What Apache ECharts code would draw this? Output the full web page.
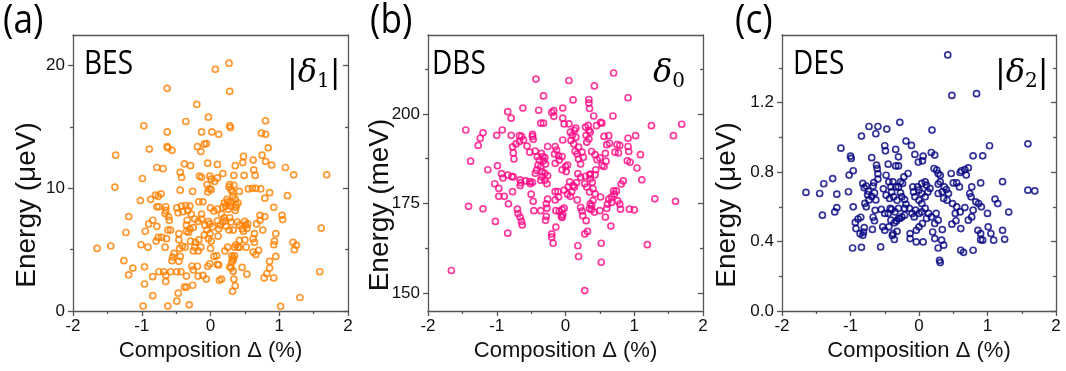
<!DOCTYPE html>
<html>
<head>
<meta charset="utf-8">
<script src="https://cdn.jsdelivr.net/npm/echarts@6/dist/echarts.min.js"></script>
<style>
  html, body { margin: 0; padding: 0; background: #fff; }
  #chart { width: 1066px; height: 371px; }
</style>
</head>
<body>
<div id="chart"></div>
<script>
// 数据：成分偏差 Δ (%) 与能量，读自原图
const besPoints = [
  [0.27,20.2],[0.07,19.7],[-0.63,18.15],[0.28,17.9],[-0.2,16.85],[-0.03,15.8],[0.8,15.5],[-0.97,15.1],[-0.36,15.45],[0.28,15.1],[0.29,14.95],[-0.63,14.6],[-0.13,14.6],[0.02,14.6],[0.12,14.4],[0.74,14.5],[0.8,14.4],
  [-1.38,12.7],[-0.89,13.2],[-0.63,13.4],[-0.62,13.3],[-0.56,13.1],[-0.19,13.4],[-0.09,13.6],[-0.06,13.65],[-0.14,13.0],[0.84,13.3],[0.75,12.7],[0.48,12.6],[0.47,12.1],[0.62,12.3],[0.8,12.2],
  [-0.78,11.7],[-0.69,11.6],[-0.38,12.0],[-0.29,11.85],[-0.04,12.05],[0.1,11.95],[0.18,11.2],[0.36,11.85],[0.63,11.5],[0.65,11.05],[0.89,11.9],[1.09,11.7],[1.21,11.1],[1.69,11.1],
  [-0.44,11.3],[-0.42,10.9],[-0.16,11.0],[-0.13,10.9],[-0.01,11.0],[0.01,10.75],[0.1,10.85],[0.06,10.55],[0.34,11.05],[0.49,11.05],[-0.99,10.8],[-1.39,10.1],[-0.44,9.85],[-0.26,9.75],
  [-0.05,10.3],[-0.02,9.95],[-0.04,9.7],[0.01,9.9],[0.28,10.3],[0.27,10.1],[0.3,9.9],[0.32,9.7],[0.34,10.25],[0.42,9.75],[0.55,9.95],[0.61,10.0],[0.66,10.0],[0.73,9.95],[0.86,9.65],[1.12,9.4],[0.79,9.2],
  [-1.02,9.0],[-0.87,9.1],[-0.8,9.45],[-0.76,9.35],[-0.72,9.55],[-0.78,8.5],[-0.75,8.5],[-0.65,8.5],[-0.65,8.2],[-0.66,7.95],
  [-0.49,8.4],[-0.47,8.0],[-0.42,8.55],[-0.36,8.6],[-0.33,8.2],[-0.3,8.55],[-0.4,8.1],
  [-0.61,7.7],[-0.6,7.4],[-1.19,7.7],[-0.84,7.4],[-0.9,7.1],[-0.78,6.9],[-1.23,6.4],
  [-0.28,7.9],[-0.34,7.4],[-0.35,7.0],[-0.3,6.7],[-0.25,6.8],[-0.32,6.4],[-0.13,7.9],[-0.11,8.9],[-0.17,8.9],[0.0,8.4],[0.05,8.15],[0.1,8.3],
  [-0.23,7.5],[-0.18,7.3],[-0.13,7.5],[-0.08,7.0],[-0.03,7.3],[-0.01,7.1],[0.03,6.85],[-0.05,6.6],[-0.09,6.2],[-0.01,6.3],[-0.03,5.9],
  [0.1,7.35],[0.14,7.0],[0.12,6.7],[0.11,6.1],
  [0.2,8.8],[0.24,9.1],[0.26,8.9],[0.3,8.85],[0.33,9.35],[0.36,9.1],[0.37,8.65],[0.4,8.8],
  [0.18,8.45],[0.22,8.55],[0.26,8.3],[0.29,8.55],[0.36,8.2],[0.37,8.45],
  [0.16,7.9],[0.2,7.6],[0.18,7.25],[0.22,7.35],[0.23,6.9],[0.28,7.6],[0.3,7.25],[0.33,6.6],[0.27,6.6],
  [0.39,7.25],[0.42,7.0],[0.46,6.7],[0.48,6.5],[0.53,6.75],[0.5,7.3],[0.51,7.0],[0.54,7.1],
  [0.42,5.75],[0.37,5.4],[0.4,5.2],[0.35,5.2],[0.42,5.2],
  [0.33,4.3],[0.31,4.0],[0.35,4.5],[0.5,5.8],[0.52,5.2],[0.62,5.9],[0.64,5.6],[0.66,4.6],[0.62,4.8],[0.7,4.95],[0.64,6.3],[0.67,7.1],[0.76,6.6],[0.72,7.8],[0.79,7.7],[0.72,7.4],[0.92,8.45],
  [0.93,5.7],[0.92,5.4],[0.95,6.3],[0.95,4.45],[0.86,4.05],[0.86,3.5],[0.82,3.05],[0.78,2.7],[0.92,2.7],[1.04,7.8],[1.05,7.45],[1.2,5.6],[1.22,5.0],[1.25,5.35],[1.61,6.75],[1.59,3.2],[1.3,1.1],[1.02,0.38],
  [-1.65,5.1],[-1.45,5.3],[-1.26,4.1],[-1.13,3.5],[-1.19,2.95],[-1.01,5.4],[-0.91,5.2],[-0.96,3.6],[-0.96,2.2],[-0.84,2.8],[-0.84,1.25],[-0.98,0.4],[-0.62,0.4],[-0.31,0.5],[-0.49,0.8],[-0.47,1.45],[-0.38,1.95],[-0.35,1.95],[-0.26,2.1],
  [-0.35,2.85],[-0.27,3.65],[-0.25,3.35],[-0.19,3.65],[-0.18,2.85],[-0.11,2.9],[-0.06,2.6],[-0.01,3.85],[-0.04,3.65],[0.1,3.8],[0.13,2.5],[0.16,2.6],[0.28,3.6],[0.3,3.5],[0.34,2.6],[0.36,2.05],[0.32,1.6],[0.33,3.25],[0.46,3.55],[0.53,3.0],
  [-0.75,3.2],[-0.68,3.2],[-0.65,2.9],[-0.58,3.2],[-0.49,3.2],[-0.43,3.2],[-0.65,2.4],
  [-0.56,4.1],[-0.55,4.4],[-0.53,4.7],[-0.46,4.05],[-0.44,4.45],[-0.45,5.1],[-0.41,5.3],[-0.37,5.2],
  [-0.29,5.7],[-0.22,5.6],[-0.25,4.9],[-0.23,5.2],[-0.18,4.9],[-0.14,5.2],[-0.17,5.8],[0.0,5.1],[0.01,5.7],[0.05,4.45],[0.09,4.5],[0.12,3.75],[0.21,4.9],[0.25,5.2],[0.33,4.15],[0.31,4.5],
  [-0.64,5.9],[-0.71,6.0],[-0.79,5.7],[-0.76,6.0],[-0.58,6.6],[-0.62,6.6],[-0.46,5.8],[-0.46,6.3],[-0.35,6.5],[-0.66,5.2],[-0.95,6.5]
]

const dbsPoints = [
  [-1.66,156.3],[-1.45,195.5],[-1.38,186.8],[-1.41,174.2],[-1.2,194.7],[-1.24,193.2],[-1.27,191.2],[-1.13,184.4],[-1.2,173.5],[-1.02,170.0],[-0.99,185.5],[-1.0,194.0],[-1.03,180.5],[-0.97,179.2],[-0.97,177],[-0.89,177],[-0.84,200.6],[-0.79,198.8],[-0.92,195.5],[-0.79,194.0],
  [-0.93,183.3],[-0.91,182.1],[-0.84,182.9],[-0.78,182.5],[-0.76,182.4],[-0.77,178.3],[-0.83,174.9],[-0.84,166.7],
  [-0.77,190.8],[-0.76,189.1],[-0.75,187.4],[-0.72,191.6],[-0.67,193.9],[-0.64,193.7],[-0.61,192.7],[-0.67,192.3],
  [-0.7,173.4],[-0.69,172.2],[-0.66,171.2],[-0.64,170.0],[-0.63,169.0],
  [-0.66,181.6],[-0.65,180.8],[-0.66,180.0],[-0.58,181.3],[-0.52,181.1],[-0.51,180.5],[-0.48,180.9],
  [-0.62,201.6],[-0.56,191.0],[-0.52,189.3],[-0.48,194.3],[-0.48,193.7],[-0.47,192.9],[-0.5,177.6],[-0.47,175.6],[-0.46,173.0],[-0.43,209.7],[-0.39,201.0],[-0.36,197.4],[-0.32,197.4],[-0.32,205.0],
  [-0.44,189.6],[-0.41,188.1],[-0.38,187.1],[-0.4,185.7],[-0.36,185.2],[-0.42,184.3],[-0.44,183.4],[-0.34,183.9],[-0.3,183.4],
  [-0.36,181.5],[-0.34,182.4],[-0.3,181.5],[-0.26,182.7],[-0.27,180.5],
  [-0.33,188.1],[-0.3,187.8],[-0.32,186.9],[-0.29,186.0],[-0.35,189.0],
  [-0.36,173.0],[-0.28,174.9],[-0.26,176.2],[-0.27,173.7],[-0.28,171.4],[-0.29,170.3],[-0.26,190.9],[-0.2,200.4],[-0.17,200.9],[-0.17,199.3],[-0.2,166.5],[-0.2,165.6],[-0.18,163.9],[-0.14,168.4],
  [-0.14,173.0],[-0.09,172.8],[-0.05,173.3],[-0.02,173.7],[-0.05,171.1],[-0.06,171.4],[-0.04,171.9],
  [-0.15,176.0],[-0.11,178.3],[-0.1,176.8],[-0.15,178.3],[-0.04,201.6],[-0.04,198.8],[-0.02,197.2],[-0.04,192.7],
  [-0.15,190.9],[-0.13,189.9],[-0.16,188.8],[-0.1,188.3],[-0.09,187.1],[-0.15,186.2],[-0.05,188.1],
  [-0.05,184.4],[0.0,185.3],[0.01,183.9],[0.03,185.7],
  [0.05,197.2],[0.15,196.0],[0.13,195.4],[0.07,194.9],[0.1,194.0],[0.08,192.6],[0.15,193.5],[0.12,191.6],[0.19,190.7],[0.14,189.6],
  [0.17,188.8],[0.19,187.4],[0.22,186.0],[0.24,189.3],[0.26,187.9],
  [0.29,196.3],[0.33,196.8],[0.34,195.4],[0.3,194.0],[0.34,193.0],[0.31,192.1],[0.36,194.9],
  [0.34,204.0],[0.34,203.0],[0.35,201.5],[0.05,209.3],[0.11,203.9],[0.42,207.8],[0.41,199.4],[0.45,196.7],[0.53,197.4],[0.51,197.6],
  [0.56,193.7],[0.63,193.9],[0.64,191.8],[0.6,191.4],[0.58,189.0],
  [0.38,189.5],[0.43,188.6],[0.46,187.2],[0.5,187.7],[0.53,185.6],[0.59,186.8],[0.56,185.3],[0.44,184.4],
  [0.72,189.3],[0.77,189.1],[0.79,191.2],[0.75,191.4],[0.7,211.4],[0.91,204.5],[0.69,199.4],
  [0.91,193.2],[0.91,190.9],[0.92,189.5],[0.9,186.9],[0.94,186.5],[1.02,193.9],[1.09,188.6],[1.04,184.9],[1.11,181.6],[1.25,196.7],[1.69,197.1],[1.57,193.9],[1.3,176.3],[1.6,175.6],[1.19,163.5],[1.0,173.2],[0.93,173.4],
  [0.79,174.8],[0.8,173.4],[0.76,175.7],[0.71,177.6],[0.74,178.5],[0.81,180.4],[0.84,181.3],
  [0.67,176.8],[0.61,174.8],[0.6,173.6],[0.58,171.2],[0.63,176.2],[0.67,175.3],[0.7,178.5],[0.66,168.7],
  [0.51,176.8],[0.4,175.8],[0.38,174.4],[0.43,177.7],[0.35,178.2],[0.4,179.1],[0.36,181.9],[0.35,183.0],[0.43,183.0],[0.39,180.9],
  [0.28,180.5],[0.31,179.6],[0.22,182.3],[0.29,182.6],[0.36,183.2],
  [0.18,183.3],[0.16,180.8],[0.13,179.6],[0.11,180.0],[0.06,181.0],[0.04,179.6],[0.09,178.3],[0.17,176.0],[0.07,177.0],[0.03,177.6],[-0.02,178.7],
  [0.22,173.9],[0.24,172.9],[0.25,171.6],[0.3,170.2],[0.28,166.5],[0.32,167.2],[0.35,173.5],[0.38,173.3],[0.36,174.9],[0.42,172.6],
  [0.18,163.2],[0.19,160.2],[0.28,150.7],[0.52,158.6],[0.52,163.9],[0.5,173.0]
]

const desPoints = [
  [0.42,1.475],[0.48,1.242],[0.84,1.252],[-0.28,1.087],[-0.73,1.063],[-0.6,1.063],[-0.63,1.021],[-0.47,1.048],[-0.84,1.008],[0.19,1.042],[-1.14,0.938],[-0.19,0.979],[-0.11,0.954],[-0.5,0.952],[-0.49,0.923],[-0.34,0.931],[-1.0,0.892],[-0.99,0.879],[-0.69,0.883],[-0.3,0.888],[-0.06,0.902],[0.06,0.892],[0.05,0.865],[-0.01,0.858],[0.18,0.913],[0.23,0.898],[1.03,0.952],[1.59,0.963],[0.93,0.894],[0.79,0.894],
  [-0.62,0.84],[-0.61,0.82],[-0.6,0.79],[-0.6,0.76],[-0.45,0.846],[-0.34,0.836],[-0.3,0.836],[-0.96,0.808],[-1.02,0.783],[-1.26,0.763],[-1.39,0.733],[-1.65,0.683],[-1.45,0.677],[-1.2,0.673],[-1.03,0.687],[-1.41,0.552],[-1.2,0.596],[-1.23,0.571],[-0.96,0.6],
  [-0.82,0.735],[-0.8,0.71],[-0.77,0.72],[-0.74,0.69],[-0.75,0.67],[-0.79,0.62],[-0.73,0.64],[-0.77,0.6],
  [-0.67,0.72],[-0.66,0.74],[-0.65,0.68],[-0.69,0.66],[-0.63,0.64],[-0.64,0.58],[-0.65,0.52],
  [-0.85,0.54],[-0.93,0.51],[-0.89,0.53],[-0.92,0.475],[-0.8,0.48],[-0.81,0.455],[-0.86,0.445],[-0.82,0.436],
  [-0.68,0.47],[-0.67,0.54],[-0.97,0.363],[-0.84,0.367],[-0.56,0.369],
  [-0.48,0.782],[-0.44,0.744],[-0.41,0.715],[-0.38,0.744],[-0.34,0.715],[-0.3,0.715],[-0.27,0.744],[-0.24,0.735],[-0.22,0.773],[-0.16,0.792],
  [-0.52,0.704],[-0.48,0.667],[-0.43,0.648],[-0.4,0.686],[-0.37,0.658],[-0.32,0.638],[-0.27,0.681],[-0.25,0.658],[-0.21,0.642],[-0.19,0.615],
  [-0.55,0.585],[-0.5,0.562],[-0.45,0.562],[-0.42,0.591],[-0.4,0.585],[-0.35,0.571],[-0.3,0.591],[-0.21,0.591],
  [-0.53,0.485],[-0.5,0.465],[-0.44,0.485],[-0.41,0.523],[-0.36,0.508],[-0.33,0.519],[-0.3,0.533],[-0.25,0.542],[-0.21,0.552],
  [-0.38,0.446],[-0.36,0.412],[-0.39,0.435],[-0.32,0.459],[-0.28,0.533],
  [-0.13,0.446],[-0.13,0.417],[-0.04,0.465],[-0.04,0.398],[0.06,0.398],[0.0,0.485],[0.05,0.504],
  [-0.09,0.715],[-0.08,0.686],[-0.06,0.658],[-0.02,0.715],[0.0,0.696],[0.04,0.735],[0.09,0.744],[0.11,0.725],[0.04,0.677],[0.09,0.658],[0.13,0.686],[0.16,0.706],[0.0,0.638],[0.04,0.619],
  [-0.14,0.591],[-0.1,0.562],[-0.05,0.581],[0.0,0.562],[-0.07,0.542],[0.04,0.571],[0.09,0.591],[0.14,0.562],[0.11,0.533],[0.18,0.542],[0.23,0.504],[0.25,0.562],[0.28,0.523],
  [0.22,0.821],[0.26,0.811],[0.28,0.792],[0.31,0.782],[0.31,0.744],[0.28,0.731],[0.37,0.715],[0.4,0.7],[0.43,0.677],[0.34,0.687],[0.28,0.677],[0.36,0.648],[0.41,0.638],
  [0.47,0.792],[0.5,0.738],[0.55,0.738],[0.59,0.715],
  [0.6,0.798],[0.62,0.808],[0.67,0.815],[0.69,0.783],[0.72,0.825],[0.76,0.658],[0.77,0.715],[0.74,0.677],
  [0.9,0.738],[0.83,0.629],[0.87,0.619],[0.91,0.6],[1.0,0.562],[1.15,0.619],[1.22,0.745],[1.11,0.645],[1.59,0.696],[1.69,0.692],[1.31,0.57],[1.22,0.465],[1.25,0.413],[1.09,0.408],[1.01,0.485],[1.05,0.446],
  [0.9,0.411],[0.93,0.408],[0.86,0.465],[0.9,0.446],[0.79,0.35],[0.61,0.35],[0.65,0.338],[0.48,0.5],[0.54,0.52],
  [0.61,0.475],[0.72,0.523],[0.77,0.542],[0.79,0.581],
  [0.33,0.408],[0.36,0.379],[0.28,0.363],[0.34,0.469],[0.3,0.292],[0.31,0.279],[0.2,0.455],[0.23,0.417],
  [0.55,0.6],[0.6,0.571],[0.67,0.596],[0.49,0.619],[0.53,0.562]
]

// 刻度
const besTicks = [0, 10, 20]
const besMinor = [5, 15]
const dbsTicks = [150, 175, 200]
const dbsMinor = [162.5, 187.5, 212.5]
const desTicks = [0, 0.4, 0.8, 1.2]
const desMinor = [0.2, 0.6, 1.0, 1.4]

const AXIS_COLOR = '#555'
const TEXT_COLOR = '#111'
const SANS = '"Liberation Sans", Arial, sans-serif'
const LABEL_FONT = '"Open Sans", sans-serif'
const MATH_FONT = '"DejaVu Serif", serif'

const panels = [
  { tag: '(a)', tagX: 3, label: 'BES', labelX: 84, data: besPoints, color: '#ff8000', left: 73, width: 275,
    yMin: 0, yMax: 22.5, ticks: besTicks, minor: besMinor, yName: 'Energy (μeV)', yNameX: 27,
    fmt: v => String(v), sym: '|{d|δ}{s|1}|', symX: 287 },
  { tag: '(b)', tagX: 370, label: 'DBS', labelX: 432, data: dbsPoints, color: '#ff0a84', left: 428, width: 275,
    yMin: 145, yMax: 222, ticks: dbsTicks, minor: dbsMinor, yName: 'Energy (meV)', yNameX: 380,
    fmt: v => String(v), sym: '{d|δ}{s|0}', symX: 653 },
  { tag: '(c)', tagX: 735, label: 'DES', labelX: 793, data: desPoints, color: '#00007f', left: 782, width: 274,
    yMin: 0, yMax: 1.59, ticks: desTicks, minor: desMinor, yName: 'Energy (μeV)', yNameX: 727,
    fmt: v => v.toFixed(1), sym: '|{d|δ}{s|2}|', symX: 995 }
]

const lineStyle = { color: AXIS_COLOR, width: 1.3 }

function yAxisSet(i, p) {
  const base = { gridIndex: i, type: 'value', min: p.yMin, max: p.yMax, splitLine: { show: false } }
  return [
    // 左轴：主刻度 + 标签
    { ...base, position: 'left',
      axisLine: { show: true, onZero: false, lineStyle },
      axisTick: { show: true, inside: false, length: 5, customValues: p.ticks, lineStyle },
      axisLabel: { show: true, customValues: p.ticks, formatter: p.fmt, fontSize: 17, color: TEXT_COLOR, fontFamily: SANS, margin: 8 } },
    // 左轴：次刻度
    { ...base, position: 'left',
      axisLine: { show: false, onZero: false },
      axisTick: { show: true, inside: false, length: 3, customValues: p.minor, lineStyle },
      axisLabel: { show: false } },
    // 右轴：主刻度朝内
    { ...base, position: 'right',
      axisLine: { show: true, onZero: false, lineStyle },
      axisTick: { show: true, inside: true, length: 5, customValues: p.ticks, lineStyle },
      axisLabel: { show: false } },
    // 右轴：次刻度朝内
    { ...base, position: 'right',
      axisLine: { show: false, onZero: false },
      axisTick: { show: true, inside: true, length: 3, customValues: p.minor, lineStyle },
      axisLabel: { show: false } }
  ]
}

function xAxisSet(i) {
  return [
    { gridIndex: i, type: 'value', position: 'bottom', min: -2, max: 2, interval: 1,
      splitLine: { show: false },
      axisLine: { show: true, onZero: false, lineStyle },
      axisTick: { show: true, inside: false, length: 5, lineStyle },
      minorTick: { show: true, splitNumber: 2, length: 3, lineStyle },
      axisLabel: { fontSize: 17, color: TEXT_COLOR, fontFamily: SANS, margin: 7 },
      name: 'Composition Δ (%)', nameLocation: 'middle', nameGap: 28,
      nameTextStyle: { fontSize: 22, color: TEXT_COLOR, fontFamily: SANS } },
    { gridIndex: i, type: 'value', position: 'top', min: -2, max: 2,
      splitLine: { show: false },
      axisLine: { show: true, onZero: false, lineStyle },
      axisTick: { show: false }, axisLabel: { show: false } }
  ]
}

const grid = [], xAxis = [], yAxis = [], series = [], graphic = []

panels.forEach((p, i) => {
  grid.push({ left: p.left, top: 35, width: p.width, height: 276 })
  xAxis.push(...xAxisSet(i))
  yAxis.push(...yAxisSet(i, p))
  series.push({
    type: 'scatter', xAxisIndex: i * 2, yAxisIndex: i * 4, data: p.data,
    symbol: 'circle', symbolSize: 6,
    itemStyle: { color: 'rgba(255,255,255,0)', borderColor: p.color, borderWidth: 1.7 }
  })
  graphic.push(
    // 纵轴标题
    { type: 'text', x: p.yNameX, y: 205, rotation: Math.PI / 2,
      style: { text: p.yName, font: '28px ' + SANS, fill: TEXT_COLOR, textAlign: 'center', textVerticalAlign: 'middle' } },
    // (a)(b)(c)
    { type: 'text', x: p.tagX, y: 2, scaleX: 0.88,
      style: { text: p.tag, font: '40px ' + LABEL_FONT, fill: '#000', textAlign: 'left', textVerticalAlign: 'top' } },
    // BES / DBS / DES
    { type: 'text', x: p.labelX, y: 49, scaleX: 0.875,
      style: { text: p.label, font: '32px ' + LABEL_FONT, fill: '#000', textAlign: 'left', textVerticalAlign: 'top' } },
    // δ 符号
    { type: 'text', x: p.symX, y: 56,
      style: {
        text: p.sym, font: '32px ' + MATH_FONT, fill: '#000', textAlign: 'left', textVerticalAlign: 'top',
        rich: {
          d: { fontSize: 32, fontStyle: 'italic', fontFamily: MATH_FONT, lineHeight: 36 },
          s: { fontSize: 20, fontFamily: MATH_FONT, verticalAlign: 'bottom', lineHeight: 16, padding: [14, 0, 0, 0] }
        }
      } }
  )
})

const chart = echarts.init(document.getElementById('chart'))
chart.setOption({
  animation: false,
  backgroundColor: '#fff',
  grid, xAxis, yAxis, series, graphic
})
</script>
</body>
</html>
